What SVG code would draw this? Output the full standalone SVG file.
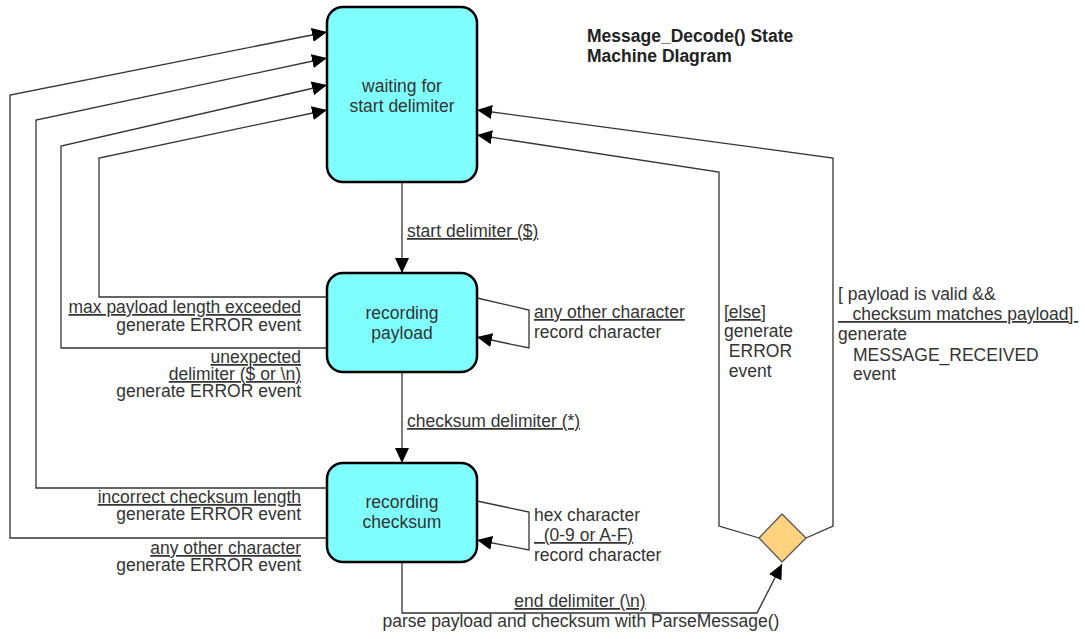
<svg xmlns="http://www.w3.org/2000/svg" width="1085" height="639" viewBox="0 0 1085 639">
  <defs>
    <marker id="arrow" viewBox="0 0 15 14" markerWidth="15" markerHeight="14" refX="15" refY="7" orient="auto" markerUnits="userSpaceOnUse">
      <path d="M0,0 L15,7 L0,14 Z" fill="#000"/>
    </marker>
  </defs>
  <style>
    .state rect { fill: #80FFFF; stroke: #000; stroke-width: 2.5; }
    .choice polygon { fill: #FFD27F; stroke: #555; stroke-width: 1.3; }
    text { font-family: "Liberation Sans", Arial, Helvetica, sans-serif; font-size: 17.5px; fill: #333; white-space: pre; }
    .mid { text-anchor: middle; }
    .end { text-anchor: end; }
    .u { text-decoration: underline; }
    .title { font-weight: bold; fill: #222; }
    .edge { fill: none; stroke: #333; stroke-width: 1.3; marker-end: url(#arrow); }
  </style>
  <rect width="1085" height="639" fill="#fff"/>

  <!-- title -->
  <g id="title">
    <text class="title" x="587" y="42">Message_Decode() State</text>
    <text class="title" x="587" y="62">Machine DIagram</text>
  </g>

  <!-- transitions -->
  <g id="connectors">
    <path class="edge" d="M402,182 V273"/>
    <path class="edge" d="M402,372 V463"/>
    <path class="edge" d="M327,297 H99 V158 L327,110"/>
    <path class="edge" d="M327,348 H61 V146 L327,85"/>
    <path class="edge" d="M327,488 H36 V120 L327,58"/>
    <path class="edge" d="M327,538 H10 V95 L327,32"/>
    <path class="edge" d="M477,298 L529,310 V348 L477,337"/>
    <path class="edge" d="M477,501 L529,512 V550 L477,540"/>
    <path class="edge" d="M402,562 V613 H757 L782,564"/>
    <path class="edge" d="M759,538 L719,526 V172 L477,135"/>
    <path class="edge" d="M806,538 L833,526 V158 L477,110"/>
  </g>

  <!-- transition labels -->
  <g id="labels">
    <text class="u" x="407" y="237">start delimiter ($)</text>
    <text class="u" x="407" y="427">checksum delimiter (*)</text>

    <text class="end u" x="301" y="313">max payload length exceeded</text>
    <text class="end" x="301" y="331">generate ERROR event</text>

    <text class="end u" x="301" y="363">unexpected</text>
    <text class="end u" x="301" y="380">delimiter ($ or \n)</text>
    <text class="end" x="301" y="397">generate ERROR event</text>

    <text class="end u" x="301" y="503">incorrect checksum length</text>
    <text class="end" x="301" y="520">generate ERROR event</text>

    <text class="end u" x="301" y="554">any other character</text>
    <text class="end" x="301" y="571">generate ERROR event</text>

    <text class="u" x="534" y="318">any other character</text>
    <text x="534" y="338">record character</text>

    <text x="534" y="521">hex character</text>
    <text class="u" x="534" y="541">  (0-9 or A-F)</text>
    <text x="534" y="561">record character</text>

    <text class="mid u" x="580" y="607">end delimiter (\n)</text>
    <text class="mid" x="581" y="627">parse payload and checksum with ParseMessage()</text>

    <text class="u" x="724" y="318">[else]</text>
    <text x="724" y="337">generate</text>
    <text x="724" y="357"> ERROR</text>
    <text x="724" y="377"> event</text>

    <text x="838" y="300">[ payload is valid &amp;&amp;</text>
    <text class="u" x="838" y="320">   checksum matches payload] </text>
    <text x="838" y="340">generate</text>
    <text x="853" y="361">MESSAGE_RECEIVED</text>
    <text x="853" y="380">event</text>
  </g>

  <!-- states -->
  <g id="waiting-for-start" class="state">
    <rect x="327" y="7" width="150" height="175" rx="16"/>
    <text class="mid" x="402" y="92">waiting for</text>
    <text class="mid" x="402" y="112">start delimiter</text>
  </g>
  <g id="recording-payload" class="state">
    <rect x="327" y="273" width="150" height="99" rx="16"/>
    <text class="mid" x="402" y="319">recording</text>
    <text class="mid" x="402" y="339">payload</text>
  </g>
  <g id="recording-checksum" class="state">
    <rect x="327" y="463" width="150" height="99" rx="16"/>
    <text class="mid" x="402" y="508">recording</text>
    <text class="mid" x="402" y="528">checksum</text>
  </g>
  <g id="checksum-choice" class="choice">
    <polygon points="782,514 806,538 782,562 759,538"/>
  </g>
</svg>
